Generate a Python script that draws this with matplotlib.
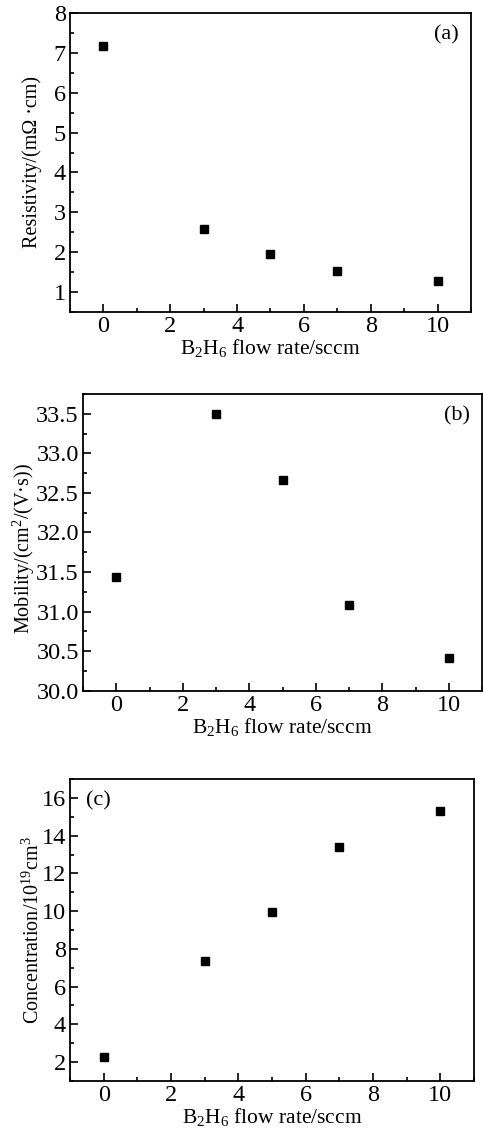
import matplotlib
matplotlib.use("Agg")
import matplotlib.pyplot as plt
from matplotlib.ticker import MultipleLocator, FormatStrFormatter

# данные
flow = [0, 3, 5, 7, 10]
resistivity = [7.17, 2.57, 1.96, 1.53, 1.28]
mobility = [31.44, 33.5, 32.66, 31.08, 30.41]
concentration = [2.26, 7.37, 9.96, 13.39, 15.33]

plt.rcParams['font.family'] = ['Liberation Serif', 'DejaVu Serif']
plt.rcParams['mathtext.fontset'] = 'custom'
plt.rcParams['mathtext.rm'] = 'Liberation Serif'
plt.rcParams['mathtext.it'] = 'Liberation Serif:italic'
plt.rcParams['font.size'] = 15.5
plt.rcParams['xtick.labelsize'] = 17.5
plt.rcParams['ytick.labelsize'] = 17.5

xlabel = "B$_2$H$_6$ flow rate/sccm"
ylab_size = 14.5

fig = plt.figure(figsize=(4.83, 11.32), dpi=100)

# (a)
ax1 = fig.add_axes([0.145, 0.7244, 0.830, 0.2641])
ax1.plot(flow, resistivity, 'ks', ms=6)
ax1.set_xlim(-1, 11)
ax1.set_ylim(0.5, 8)
ax1.yaxis.set_major_locator(MultipleLocator(1))
ax1.yaxis.set_minor_locator(MultipleLocator(0.5))
ax1.set_ylabel("Resistivity/(m\u03a9 \u00b7cm)", fontsize=ylab_size)
ax1.yaxis.set_label_coords(-0.070, 0.5)
ax1.text(0.97, 0.96, "(a)", transform=ax1.transAxes, ha='right', va='top', fontsize=16)

# (b)
ax2 = fig.add_axes([0.172, 0.3898, 0.826, 0.2622])
ax2.plot(flow, mobility, 'ks', ms=6)
ax2.set_xlim(-1, 11)
ax2.set_ylim(30, 33.75)
ax2.yaxis.set_major_locator(MultipleLocator(0.5))
ax2.yaxis.set_minor_locator(MultipleLocator(0.25))
ax2.yaxis.set_major_formatter(FormatStrFormatter('%.1f'))
ax2.set_ylabel("Mobility/(cm$^2$/(V\u00b7s))", fontsize=ylab_size)
ax2.yaxis.set_label_coords(-0.115, 0.48)
ax2.text(0.97, 0.96, "(b)", transform=ax2.transAxes, ha='right', va='top', fontsize=16)

# (c)
ax3 = fig.add_axes([0.145, 0.0451, 0.836, 0.2667])
ax3.plot(flow, concentration, 'ks', ms=6)
ax3.set_xlim(-1, 11)
ax3.set_ylim(1, 17)
ax3.yaxis.set_major_locator(MultipleLocator(2))
ax3.yaxis.set_minor_locator(MultipleLocator(1))
ax3.set_ylabel("Concentration/10$^{19}$cm$^3$", fontsize=ylab_size)
ax3.yaxis.set_label_coords(-0.065, 0.5)
ax3.text(0.04, 0.96, "(c)", transform=ax3.transAxes, ha='left', va='top', fontsize=16)

for ax in (ax1, ax2, ax3):
    ax.xaxis.set_major_locator(MultipleLocator(2))
    ax.xaxis.set_minor_locator(MultipleLocator(1))
    ax.set_xlabel(xlabel, labelpad=0)
    ax.tick_params(which='both', direction='in', top=False, right=False, width=1.2)
    ax.tick_params(which='major', length=6, pad=3)
    ax.tick_params(which='minor', length=3)
    for s in ax.spines.values():
        s.set_linewidth(1.3)

fig.savefig("out.png", dpi=100)
